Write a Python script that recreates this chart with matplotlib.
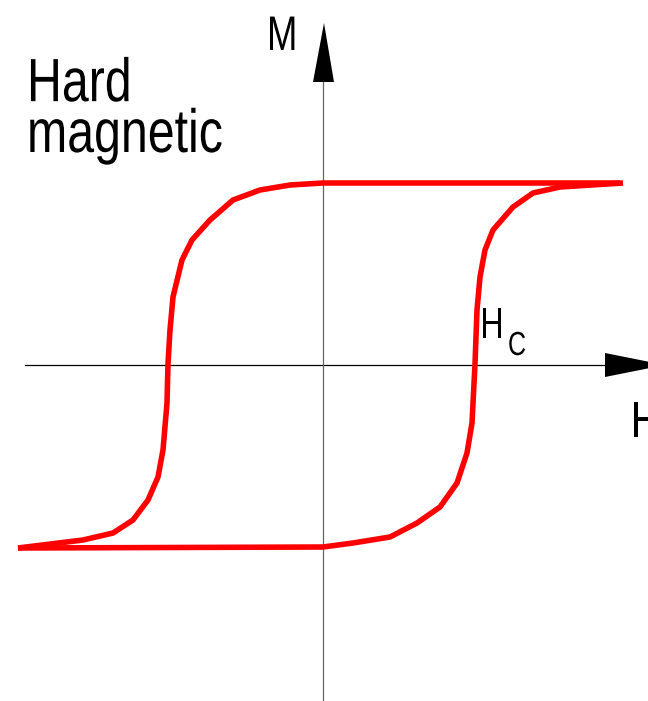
import matplotlib
matplotlib.use("Agg")
import matplotlib.pyplot as plt
from matplotlib.patheffects import AbstractPathEffect
from matplotlib.transforms import Affine2D

# curva de histerese (material magnetico duro)
h_up = [-3.05, -2.40, -2.10, -1.90, -1.75, -1.65, -1.60, -1.56, -1.55, -1.53,
        -1.50, -1.41, -1.31, -1.13, -0.90, -0.63, -0.33, 0.0, 2.97]
m_up = [-1.83, -1.75, -1.68, -1.55, -1.35, -1.12, -0.85, -0.38, 0.01, 0.35,
        0.68, 1.05, 1.25, 1.45, 1.65, 1.75, 1.80, 1.82, 1.82]

h_down = [3.00, 2.37, 2.10, 1.90, 1.70, 1.62, 1.57, 1.54, 1.52, 1.49,
          1.44, 1.34, 1.17, 0.94, 0.67, 0.30, 0.0, -3.05]
m_down = [1.82, 1.78, 1.72, 1.58, 1.35, 1.15, 0.88, 0.55, 0.01, -0.58,
          -0.88, -1.18, -1.42, -1.58, -1.72, -1.78, -1.82, -1.83]

title_text = "Hard\nmagnetic"
fonte = ["Liberation Sans", "DejaVu Sans"]


# fonte estreita: comprime os glifos na horizontal
class Estreita(AbstractPathEffect):
    def __init__(self, sx=0.75):
        super().__init__()
        self.sx = sx

    def draw_path(self, renderer, gc, tpath, affine, rgbFace=None):
        novo = Affine2D().scale(self.sx, 1.0) + affine
        renderer.draw_path(gc, tpath, novo, rgbFace)


estreita = [Estreita(0.75)]

fig = plt.figure(figsize=(6.48, 7.01), dpi=100)
ax = fig.add_axes([0, 0, 1, 1])
ax.set_xlim(-3.23, 3.25)
ax.set_ylim(-3.36, 3.65)
ax.axis("off")

# eixos
ax.plot([-2.98, 2.85], [0, 0], color="black", lw=0.9, zorder=1)
ax.plot([0.0, 0.0], [-3.36, 2.85], color="#666666", lw=0.9, zorder=1)
ax.fill([2.82, 3.42, 2.82], [0.12, 0.0, -0.12], color="black", lw=0, zorder=2)
ax.fill([-0.10, 0.01, 0.11], [2.83, 3.42, 2.83], color="black", lw=0, zorder=2)

# laco
ax.plot(h_up, m_up, color="#ff0000", lw=4, solid_capstyle="butt", zorder=3)
ax.plot(h_down, m_down, color="#ff0000", lw=4, solid_capstyle="butt", zorder=3)

# textos
ax.text(-2.96, 2.13, title_text, family=fonte, fontsize=44, va="baseline",
        linespacing=0.86, path_effects=[Estreita(0.79)])
ax.text(-0.56, 3.15, "M", family=fonte, fontsize=35, va="baseline",
        path_effects=estreita)
ax.text(3.08, -0.72, "H", family=fonte, fontsize=37, va="baseline",
        path_effects=estreita)
ax.text(1.57, 0.27, "H", family=fonte, fontsize=31, va="baseline",
        path_effects=estreita)
ax.text(1.85, 0.10, "C", family=fonte, fontsize=24, va="baseline",
        path_effects=estreita)

fig.savefig("out.png", dpi=100)
